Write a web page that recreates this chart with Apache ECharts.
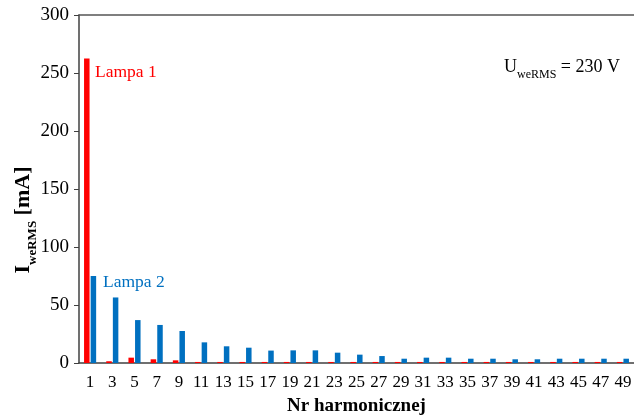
<!DOCTYPE html>
<html>
<head>
<meta charset="utf-8">
<script src="https://cdn.jsdelivr.net/npm/echarts@6/dist/echarts.min.js"></script>
<style>html,body{margin:0;padding:0;background:#fff}#c{width:634px;height:417px}</style>
</head>
<body>
<div id="c"></div>
<script>
const harmonics = ['1','3','5','7','9','11','13','15','17','19','21','23','25','27','29','31','33','35','37','39','41','43','45','47','49'];
const lampa1 = [262.5, 1.5, 4.6, 3.2, 2.3, 0.9, 0.9, 0.9, 0.9, 0.9, 0.9, 0.9, 0.9, 0.9, 0.9, 0.9, 0.9, 0.9, 0.9, 0.9, 0.9, 0.9, 0.9, 0.9, 0.9];
const lampa2 = [75, 56.5, 37, 32.8, 27.6, 17.8, 14.4, 13.2, 10.7, 10.9, 10.9, 8.9, 7.2, 6.0, 3.7, 4.6, 4.6, 3.7, 3.7, 3.2, 3.2, 3.7, 3.7, 3.7, 3.7];
const yTicks = [0, 50, 100, 150, 200, 250, 300];

const serif = '"Liberation Serif", "Times New Roman", serif';
const chart = echarts.init(document.getElementById('c'));
chart.setOption({
  animation: false,
  textStyle: { fontFamily: serif },
  grid: { left: 79, right: 0, top: 15, bottom: 54, containLabel: false, outerBoundsMode: 'none' },
  xAxis: [{
    type: 'category',
    data: harmonics,
    axisLine: { lineStyle: { color: '#404040', width: 1.5 } },
    axisTick: { show: false },
    axisLabel: { color: '#000', fontSize: 17, fontFamily: serif, margin: 11, interval: 0 },
    name: 'Nr harmonicznej',
    nameLocation: 'middle',
    nameGap: 34,
    nameTextStyle: { color: '#000', fontSize: 19, fontWeight: 'bold', fontFamily: serif }
  }, {
    type: 'category',
    position: 'top',
    data: harmonics,
    axisLine: { show: true, lineStyle: { color: '#555', width: 1.5 } },
    axisTick: { show: false },
    axisLabel: { show: false }
  }],
  yAxis: {
    type: 'value',
    min: yTicks[0],
    max: yTicks[yTicks.length - 1],
    interval: 50,
    axisLine: { show: true, lineStyle: { color: '#404040', width: 1.5 } },
    axisTick: { show: true, length: 5, lineStyle: { color: '#404040' } },
    splitLine: { show: false },
    axisLabel: { color: '#000', fontSize: 19, fontFamily: serif, margin: 10 }
  },
  series: [{
    name: 'Lampa 1',
    type: 'bar',
    data: lampa1,
    barWidth: 5.5,
    barGap: '20%',
    itemStyle: { color: '#FF0000' }
  }, {
    name: 'Lampa 2',
    type: 'bar',
    data: lampa2,
    barWidth: 5.5,
    itemStyle: { color: '#0070C0' }
  }],
  graphic: [
    { type: 'text', x: 21, y: 220, rotation: Math.PI / 2, style: {
        text: '{a|I}{s|weRMS}{a| [mA]}',
        align: 'center', verticalAlign: 'middle',
        rich: {
          a: { fontSize: 22, fontWeight: 'bold', fontFamily: serif, fill: '#000', lineHeight: 26, verticalAlign: 'bottom' },
          s: { fontSize: 13, fontWeight: 'bold', fontFamily: serif, fill: '#000', lineHeight: 20, verticalAlign: 'bottom', padding: [0, 0, -5, 0] }
        }
    } },
    { type: 'text', left: 95, top: 63, style: { text: 'Lampa 1', fill: '#FF0000', font: '17.5px ' + serif } },
    { type: 'text', left: 103, top: 273, style: { text: 'Lampa 2', fill: '#0070C0', font: '17.5px ' + serif } },
    { type: 'text', left: 504, top: 58, style: {
        text: '{a|U}{s|weRMS}{a| = 230 V}',
        rich: {
          a: { fontSize: 18, fontFamily: serif, fill: '#000', lineHeight: 22, verticalAlign: 'bottom' },
          s: { fontSize: 12, fontFamily: serif, fill: '#000', lineHeight: 16, verticalAlign: 'bottom', padding: [0, 0, -5, 0] }
        }
    } }
  ]
});
</script>
</body>
</html>
